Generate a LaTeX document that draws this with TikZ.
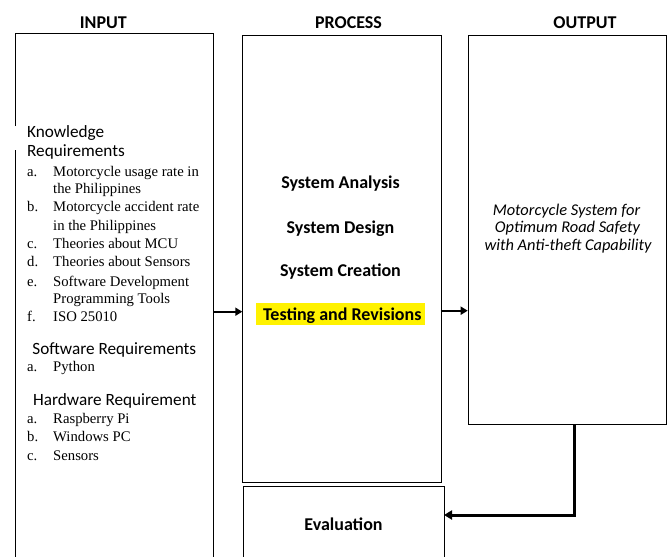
\documentclass[tikz,border=0pt]{standalone}
\usepackage{fontspec}
\newfontfamily\calfont{Carlito}
\newfontfamily\serfont{Liberation Serif}
\usetikzlibrary{arrows.meta}
\begin{document}
\begin{tikzpicture}[x=1pt,y=-1pt,
  hdr/.style={font=\calfont\bfseries\fontsize{18}{20}\selectfont, inner sep=0, anchor=base},
  sub/.style={font=\calfont\fontsize{17.2}{19}\selectfont, inner sep=0},
  itm/.style={font=\serfont\fontsize{14.7}{16.5}\selectfont, inner sep=0, anchor=base west},
  proc/.style={font=\calfont\bfseries\fontsize{18}{20}\selectfont, inner sep=0, anchor=base},
  outt/.style={font=\calfont\itshape\fontsize{16.4}{18}\selectfont, inner sep=0, anchor=base},
  boxline/.style={draw=black, line width=1pt},
  arr/.style={-{Triangle[length=7pt,width=8pt]}, line width=2pt},
  arrb/.style={-{Triangle[length=8pt,width=9pt]}, line width=3pt}
]
\useasboundingbox (0,0) rectangle (670,557);

% headers
\node[hdr] (hin) at (103.3,28.5) {INPUT};
\node[hdr] (hpr) at (348.5,28.5) {PROCESS};
\node[hdr] (hout) at (585,28.5) {OUTPUT};

% input box (open at the bottom, gap in left border)
\draw[boxline] (15.7,557) -- (15.7,150);
\draw[boxline] (15.7,126) -- (15.7,33.3) -- (213,33.3) -- (213,557);
\coordinate (inr) at (213,311.7);

% process box
\node[boxline, inner sep=0, anchor=north west, minimum width=198.4pt, minimum height=446.7pt] (procbox) at (242.3,35) {};
% output box
\node[boxline, inner sep=0, anchor=north west, minimum width=198.3pt, minimum height=389pt] (outbox) at (467.7,35) {};
% evaluation box (open at the bottom)
\draw[boxline] (243.3,557) -- (243.3,486) -- (444,486) -- (444,557);
\coordinate (evr) at (444,515);

% input texts
\node[sub, anchor=base west] (k1) at (27,137.3) {Knowledge};
\node[sub, anchor=base west] (k2) at (27,156) {Requirements};

\node[itm] (la) at (27,176.7) {a.};
\node[itm] (ta) at (53,176.7) {Motorcycle usage rate in};
\node[itm] (ta2) at (53,193) {the Philippines};
\node[itm] (lb) at (27,211.7) {b.};
\node[itm] (tb) at (53,211.7) {Motorcycle accident rate};
\node[itm] (tb2) at (53,230) {in the Philippines};
\node[itm] (lc) at (27,248) {c.};
\node[itm] (tc) at (53,248) {Theories about MCU};
\node[itm] (ld) at (27,266) {d.};
\node[itm] (td) at (53,266) {Theories about Sensors};
\node[itm] (le) at (27,286.7) {e.};
\node[itm] (te) at (53,286.7) {Software Development};
\node[itm] (te2) at (53,303.3) {Programming Tools};
\node[itm] (lf) at (27,321.7) {f.};
\node[itm] (tf) at (53,321.7) {ISO 25010};

\node[sub, anchor=base] (sw) at (114.3,354) {Software Requirements};
\node[itm] (sa) at (27,371.7) {a.};
\node[itm] (sat) at (53,371.7) {Python};

\node[sub, anchor=base] (hw) at (114.8,405) {Hardware Requirement};
\node[itm] (ha) at (27,423.3) {a.};
\node[itm] (hat) at (53,423.3) {Raspberry Pi};
\node[itm] (hb) at (27,441.7) {b.};
\node[itm] (hbt) at (53,441.7) {Windows PC};
\node[itm] (hc) at (27,460.7) {c.};
\node[itm] (hct) at (53,460.7) {Sensors};

% process texts
\node[proc] (p1) at (340.5,188.3) {System Analysis};
\node[proc] (p2) at (340.5,233.3) {System Design};
\node[proc] (p3) at (340.5,276.7) {System Creation};
\fill[yellow] (256,302.7) rectangle (425,325);
\node[proc] (p4) at (342.3,320.5) {Testing and Revisions};

% output texts
\node[outt] (o1) at (566.5,215) {Motorcycle System for};
\node[outt] (o2) at (567.5,232.7) {Optimum Road Safety};
\node[outt] (o3) at (568,250.5) {with Anti-theft Capability};

% evaluation
\node[proc] (ev) at (343.5,530.7) {Evaluation};

% connectors
\draw[arr] (inr) -- (inr -| procbox.west);
\coordinate (pr) at (440.7,310.7);
\draw[arr] (pr) -- (pr -| outbox.west);
\coordinate (ob) at (574.3,424);
\draw[arrb] (ob) |- (evr);
\end{tikzpicture}
\end{document}
